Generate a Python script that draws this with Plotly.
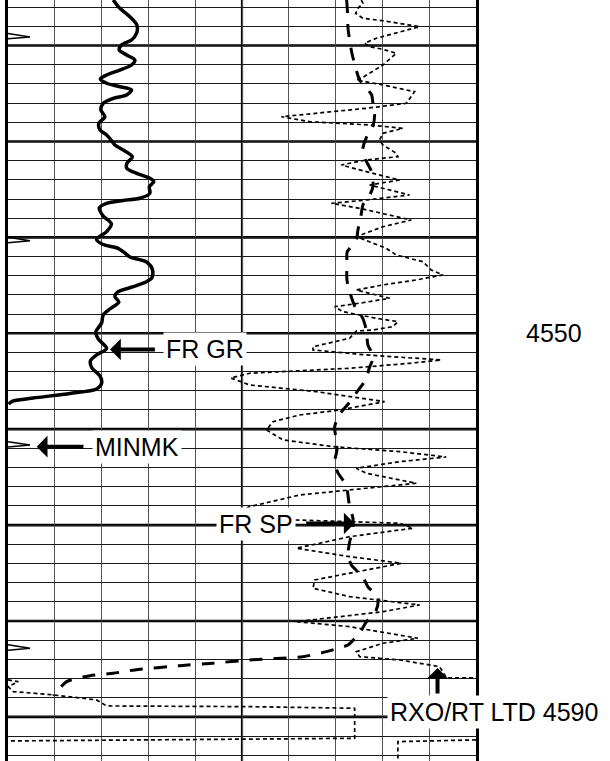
import plotly.graph_objects as go

# ---------------- data (track scale 0-100 across 10 divisions, depth in ft) ----------------
TOP_DEPTH = 4515.25
BOTTOM_DEPTH = 4594.6

gr_x = [22.48, 23.91, 26.04, 27.54, 27.47, 26.40, 24.27, 23.76, 25.34, 27.11, 26.40, 23.91, 21.07, 19.74,
        21.07, 23.91, 26.40, 25.34, 22.48, 20.34, 19.85, 20.70, 19.42, 19.64, 21.07, 22.20, 22.84, 24.61,
        26.57, 25.40, 25.40, 27.47, 30.31, 31.16, 30.20, 30.31, 28.18, 24.61, 21.07, 19.49, 20.34, 22.09,
        21.07, 18.93, 20.34, 23.54, 24.97, 26.04, 29.61, 30.89, 30.74, 29.46, 26.75, 23.48, 22.84, 23.69,
        21.77, 20.34, 20.00, 18.78, 19.27, 21.07, 18.93, 17.61, 17.93, 19.64, 20.00, 18.93, 13.23, 5.40,
        1.13, 0.11]
gr_depth = [4515.25, 4516.12, 4516.99, 4517.86, 4518.72, 4519.42, 4519.94, 4520.46, 4520.98, 4521.51,
            4522.03, 4522.55, 4523.07, 4523.49, 4523.93, 4524.29, 4524.63, 4525.15, 4525.50, 4526.02,
            4526.72, 4527.42, 4528.11, 4528.80, 4529.33, 4529.95, 4530.37, 4530.89, 4531.59, 4532.28,
            4532.80, 4533.32, 4533.84, 4534.19, 4534.72, 4535.40, 4535.92, 4536.15, 4536.45, 4536.94,
            4537.77, 4538.60, 4539.41, 4540.22, 4540.74, 4541.14, 4541.63, 4542.04, 4542.57, 4543.40,
            4544.23, 4544.65, 4545.14, 4545.69, 4546.18, 4546.74, 4547.47, 4548.09, 4548.93, 4549.86,
            4550.59, 4551.58, 4552.26, 4552.89, 4553.62, 4554.45, 4555.23, 4555.81, 4556.28, 4556.75,
            4557.06, 4557.37]

sp_x = [72.36, 72.57, 72.64, 73.0, 73.43, 74.28, 75.13, 76.42, 77.70, 78.02, 78.34, 77.91, 76.63, 75.77,
        76.42, 77.63, 78.02, 77.42, 75.84, 75.35, 74.77, 74.43, 72.47, 72.42, 72.42, 73.0, 74.43, 75.77,
        76.56, 76.90, 78.12, 77.27, 76.42, 74.56, 72.85, 70.72, 69.80, 70.12, 70.29, 69.80, 70.50, 72.30,
        72.64, 73.0, 73.70, 73.64, 73.0, 72.64, 73.36, 75.84, 76.90, 79.04, 78.70, 76.56, 75.13, 72.64,
        70.50, 68.03, 63.03, 51.65, 43.76, 36.71, 27.11, 22.48, 17.50, 12.53, 9.67]
sp_depth = [4515.25, 4516.81, 4518.17, 4519.42, 4520.67, 4522.34, 4523.59, 4524.32, 4525.15, 4526.20,
            4527.24, 4528.49, 4529.53, 4530.89, 4531.93, 4533.08, 4534.54, 4535.48, 4536.62, 4537.98,
            4539.23, 4540.27, 4541.52, 4542.57, 4544.44, 4545.69, 4547.57, 4548.40, 4549.66, 4551.22,
            4552.44, 4553.51, 4554.87, 4556.12, 4557.27, 4558.52, 4559.77, 4561.12, 4562.17, 4563.42,
            4564.56, 4565.82, 4566.86, 4568.11, 4569.26, 4570.51, 4571.76, 4573.11, 4574.16, 4575.41,
            4576.45, 4577.49, 4578.85, 4580.10, 4581.25, 4582.50, 4582.84, 4583.20, 4583.72, 4584.06,
            4584.41, 4584.66, 4585.10, 4585.45, 4585.70, 4586.32, 4587.81]

res_x = [75.50, 75.84, 74.77, 74.28, 75.84, 80.11, 87.94, 82.97, 78.70, 76.20, 77.27, 80.11, 82.97, 80.11,
         75.50, 74.43, 80.11, 86.87, 85.10, 76.56, 65.89, 58.42, 64.46, 77.27, 84.38, 80.11, 79.40, 80.11,
         82.97, 83.31, 76.56, 71.23, 76.56, 83.67, 77.27, 85.81, 76.56, 69.10, 75.13, 86.17, 80.11, 74.43,
         80.83, 82.97, 88.65, 90.44, 92.91, 87.24, 80.11, 74.43, 80.11, 81.54, 75.84, 69.80, 71.57, 78.70,
         83.31, 82.24, 77.97, 74.43, 73.0, 65.17, 65.17, 76.56, 92.57, 85.81, 73.0, 51.65, 47.60, 51.65,
         65.89, 80.47, 70.87, 62.33, 56.63, 55.22, 58.76, 69.44, 83.67, 93.64, 83.67, 74.43, 76.56, 87.24,
         76.56, 62.33, 51.65, 47.81, 61.62, 70.87, 83.67, 86.51, 73.0, 61.62, 73.0, 84.03, 74.43, 65.53,
         65.17, 73.0, 87.94, 80.11, 61.62, 73.0, 87.58, 80.11, 74.43, 75.13, 83.67, 92.21, 93.70, 100.5]
res_depth = [4515.25, 4515.59, 4516.12, 4516.64, 4517.16, 4517.41, 4518.03, 4518.72, 4519.24, 4519.76,
             4520.12, 4520.39, 4520.81, 4522.03, 4523.41, 4523.59, 4524.11, 4524.81, 4526.02, 4526.54,
             4527.06, 4527.42, 4527.94, 4528.28, 4528.63, 4529.15, 4529.85, 4530.37, 4531.23, 4531.59,
             4531.93, 4532.45, 4533.15, 4534.02, 4534.54, 4535.58, 4536.10, 4536.45, 4536.97, 4538.19,
             4538.89, 4539.93, 4541.14, 4541.84, 4542.54, 4543.40, 4543.92, 4544.44, 4544.96, 4545.49,
             4546.18, 4546.35, 4546.81, 4547.23, 4547.75, 4548.44, 4548.79, 4549.31, 4549.66, 4549.76,
             4550.52, 4551.40, 4551.74, 4552.26, 4552.78, 4553.13, 4553.65, 4554.17, 4554.66, 4555.39,
             4556.09, 4557.13, 4558.00, 4558.52, 4559.22, 4560.08, 4561.12, 4561.82, 4562.34, 4562.90,
             4563.39, 4564.08, 4564.60, 4565.64, 4566.16, 4566.86, 4568.08, 4568.84, 4569.47, 4569.64,
             4569.81, 4570.33, 4571.21, 4572.42, 4573.29, 4573.98, 4574.86, 4575.72, 4576.59, 4577.46,
             4578.33, 4579.03, 4580.07, 4580.59, 4581.80, 4582.32, 4583.20, 4583.72, 4584.06, 4584.76,
             4585.94, 4585.94]

# wrapped (backup-scale) portions of the resistivity curves near TD
res_wrap_x = [0.0, 2.20, 0.06, 1.13, 5.40, 9.67, 18.93, 21.07, 50.95, 74.07, 74.07, 28.88, 0.0]
res_wrap_depth = [4586.15, 4586.32, 4586.85, 4587.37, 4587.53, 4587.71, 4588.23, 4588.86, 4588.93,
                  4589.10, 4592.23, 4592.40, 4592.51]
res_wrap2_x = [100.0, 83.31, 83.31]
res_wrap2_depth = [4592.40, 4592.58, 4595.0]

minmark_depths = [4519.1, 4540.35, 4561.65, 4582.84]

depth_label = "4550"
label_gr = "FR GR"
label_minmk = "MINMK"
label_sp = "FR SP"
label_td = "RXO/RT LTD 4590"

FONT = "Liberation Sans, Arial, sans-serif"

# ---------------- figure ----------------
fig = go.Figure()

common = dict(mode="lines", hoverinfo="skip", showlegend=False)

fig.add_trace(go.Scatter(x=res_x, y=res_depth,
                         line=dict(color="black", width=1.7, dash="4px,3px"), **common))
fig.add_trace(go.Scatter(x=res_wrap_x, y=res_wrap_depth,
                         line=dict(color="black", width=1.7, dash="4px,3px"), **common))
fig.add_trace(go.Scatter(x=res_wrap2_x, y=res_wrap2_depth,
                         line=dict(color="black", width=1.7, dash="4px,3px"), **common))
fig.add_trace(go.Scatter(x=sp_x, y=sp_depth,
                         line=dict(color="black", width=3, dash="13px,11px", shape="spline", smoothing=0.6),
                         **common))
fig.add_trace(go.Scatter(x=gr_x, y=gr_depth,
                         line=dict(color="black", width=3.5, shape="spline", smoothing=0.8), **common))

# minute marks at left edge
for d in minmark_depths:
    fig.add_trace(go.Scatter(x=[0, 4.7, 0], y=[d - 0.35, d, d + 0.2],
                             line=dict(color="black", width=1.5), **common))

shapes = []
# heavy 10-ft lines
for d in range(4520, 4600, 10):
    shapes.append(dict(type="line", xref="x", yref="y", x0=0, x1=100, y0=d, y1=d,
                       line=dict(color="black", width=2.6), layer="below"))
# centre division line
shapes.append(dict(type="line", xref="x", yref="y", x0=50, x1=50, y0=TOP_DEPTH, y1=BOTTOM_DEPTH,
                   line=dict(color="black", width=2.2), layer="below"))

arrow_common = dict(xref="x", yref="y", axref="x", ayref="y", showarrow=True, text="",
                    arrowhead=1, arrowsize=0.9, arrowwidth=4, arrowcolor="black", standoff=0)
text_common = dict(showarrow=False, bgcolor="white", borderpad=2,
                   font=dict(family=FONT, size=25, color="black"))

annotations = [
    dict(x=21.8, y=4551.7, ax=31.7, ay=4551.7, **arrow_common),
    dict(x=6.13, y=4561.82, ax=16.44, ay=4561.82, **arrow_common),
    dict(x=74.07, y=4569.83, ax=63.39, ay=4569.83, **arrow_common),
    dict(x=91.78, y=4584.9, ax=91.78, ay=4587.71, **arrow_common),
    dict(x=33.2, y=4551.64, xref="x", yref="y", xanchor="left", yanchor="middle", text=label_gr, **text_common),
    dict(x=18.0, y=4561.82, xref="x", yref="y", xanchor="left", yanchor="middle", text=label_minmk, **text_common),
    dict(x=61.6, y=4569.93, xref="x", yref="y", xanchor="right", yanchor="middle", text=label_sp, **text_common),
    dict(x=80.9, y=4589.48, xref="x", yref="y", xanchor="left", yanchor="middle", text=label_td, **text_common),
    dict(x=1.1676, y=4550, xref="paper", yref="y", xanchor="center", yanchor="middle", text=depth_label,
         showarrow=False, font=dict(family=FONT, size=25, color="black")),
]

fig.update_layout(
    width=610, height=761,
    margin=dict(l=8, r=133.5, t=0, b=0, pad=0),
    paper_bgcolor="white", plot_bgcolor="white",
    shapes=shapes, annotations=annotations,
    xaxis=dict(range=[0, 100], tickmode="linear", tick0=0, dtick=10, showgrid=True,
               gridcolor="#555555", gridwidth=1.3, showticklabels=False, ticks="", zeroline=False,
               showline=False, fixedrange=True),
    yaxis=dict(range=[BOTTOM_DEPTH, TOP_DEPTH], tickmode="linear", tick0=4516, dtick=2, showgrid=True,
               gridcolor="#1a1a1a", gridwidth=1.3, showticklabels=False, ticks="", zeroline=False,
               showline=True, mirror=True, linecolor="black", linewidth=3, fixedrange=True),
)

fig.write_html("out.html", config={"displayModeBar": False},
               post_script="document.body.style.margin='0';document.body.style.overflow='hidden';")
